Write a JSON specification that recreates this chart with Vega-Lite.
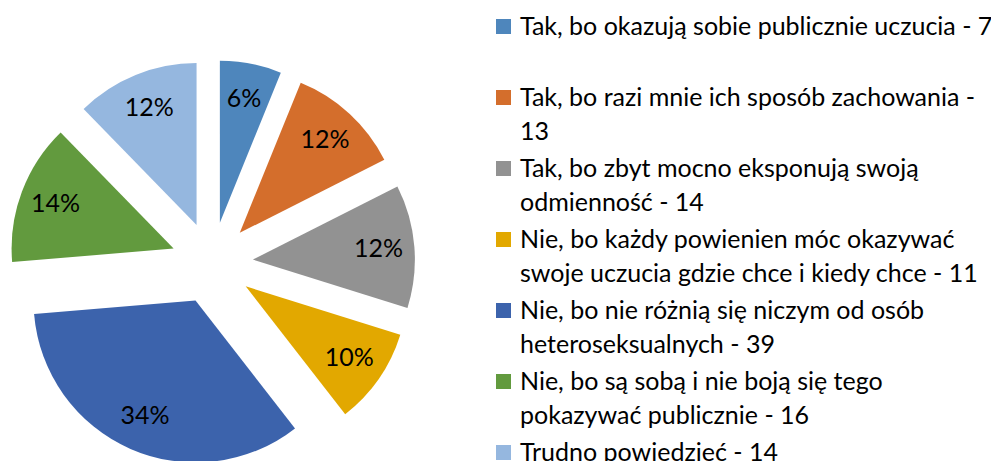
{
  "$schema": "https://vega.github.io/schema/vega-lite/v6.json",
  "width": 424,
  "height": 526,
  "padding": 0,
  "background": "white",
  "data": {
    "values": [
      {"k": 1, "label": "Tak, bo okazują sobie publicznie uczucia  - 7\n ", "value": 7, "pct": "6%"},
      {"k": 2, "label": "Tak, bo razi mnie ich sposób zachowania -\n13", "value": 13, "pct": "12%"},
      {"k": 3, "label": "Tak, bo zbyt mocno eksponują swoją\nodmienność - 14", "value": 14, "pct": "12%"},
      {"k": 4, "label": "Nie, bo każdy powienien móc okazywać\nswoje uczucia gdzie chce i kiedy chce - 11", "value": 11, "pct": "10%"},
      {"k": 5, "label": "Nie, bo nie różnią się niczym od osób\nheteroseksualnych - 39", "value": 39, "pct": "34%"},
      {"k": 6, "label": "Nie, bo są sobą i nie boją się tego\npokazywać publicznie - 16", "value": 16, "pct": "14%"},
      {"k": 7, "label": "Trudno powiedzieć - 14", "value": 14, "pct": "12%"}
    ]
  },
  "encoding": {
    "theta": {"field": "value", "type": "quantitative", "stack": true},
    "order": {"field": "k", "type": "quantitative"}
  },
  "layer": [
    {
      "mark": {
        "type": "arc",
        "outerRadius": 162,
        "xOffset": {"expr": "41*sin((scale('theta', datum.value_start)+scale('theta', datum.value_end))/2)"},
        "yOffset": {"expr": "-41*cos((scale('theta', datum.value_start)+scale('theta', datum.value_end))/2)"}
      },
      "encoding": {
        "color": {
          "field": "label",
          "type": "nominal",
          "scale": {
            "domain": [
              "Tak, bo okazują sobie publicznie uczucia  - 7\n ",
              "Tak, bo razi mnie ich sposób zachowania -\n13",
              "Tak, bo zbyt mocno eksponują swoją\nodmienność - 14",
              "Nie, bo każdy powienien móc okazywać\nswoje uczucia gdzie chce i kiedy chce - 11",
              "Nie, bo nie różnią się niczym od osób\nheteroseksualnych - 39",
              "Nie, bo są sobą i nie boją się tego\npokazywać publicznie - 16",
              "Trudno powiedzieć - 14"
            ],
            "range": ["#4E86BC", "#D46E2C", "#929292", "#E2A800", "#3C63AC", "#629A3E", "#95B7DF"]
          },
          "legend": {
            "orient": "none",
            "legendX": 491,
            "legendY": 14,
            "title": null,
            "symbolType": "square",
            "symbolSize": 225,
            "symbolStrokeWidth": 0,
            "labelFont": "Lato",
            "labelFontSize": 25,
            "labelColor": "#000000",
            "labelLimit": 0,
            "labelOffset": 4,
            "rowPadding": 11,
            "labelExpr": "split(datum.label, '\\n')"
          }
        }
      }
    },
    {
      "mark": {
        "type": "text",
        "radius": 126,
        "font": "Lato",
        "fontSize": 25,
        "color": "#000000",
        "xOffset": {"expr": "41*sin((scale('theta', datum.value_start)+scale('theta', datum.value_end))/2)"},
        "yOffset": {"expr": "-41*cos((scale('theta', datum.value_start)+scale('theta', datum.value_end))/2)"}
      },
      "encoding": {
        "text": {"field": "pct", "type": "nominal"}
      }
    }
  ],
  "config": {
    "view": {"stroke": null},
    "style": {"guide-label": {"lineHeight": 34}}
  }
}
